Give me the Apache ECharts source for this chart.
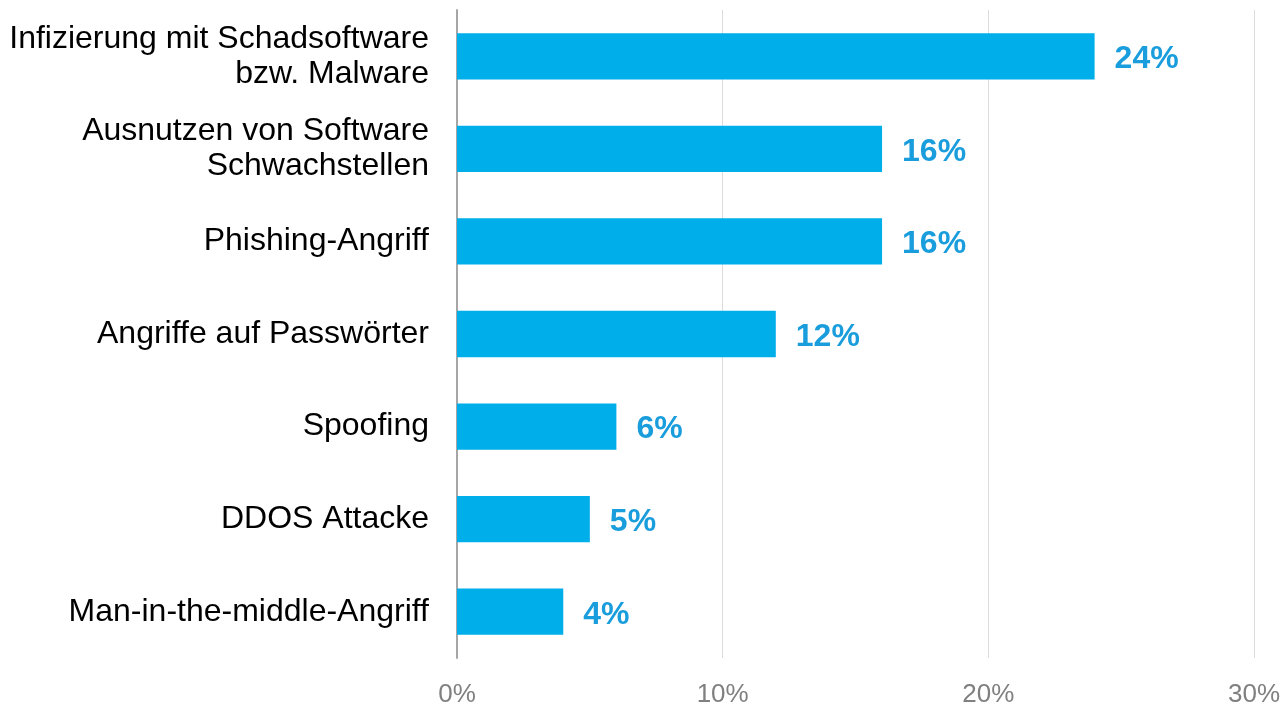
<!DOCTYPE html>
<html><head><meta charset="utf-8">
<script src="https://cdn.jsdelivr.net/npm/echarts@6/dist/echarts.min.js"></script>
<style>html,body{margin:0;padding:0;background:#fff}#c{width:1283px;height:706px}</style>
</head><body><div id="c"></div>
<script>
const categories = ["Infizierung mit Schadsoftware\nbzw. Malware","Ausnutzen von Software\nSchwachstellen","Phishing-Angriff","Angriffe auf Passwörter","Spoofing","DDOS Attacke","Man-in-the-middle-Angriff"];
const values = [24,16,16,12,6,5,4];
const tickLabels = ["0%","10%","20%","30%"];

const FONT = "'Liberation Sans', Arial, sans-serif";
const chart = echarts.init(document.getElementById('c'));
chart.setOption({
  animation:false,
  grid:{left:457,right:29,top:10,bottom:48,containLabel:false,outerBoundsMode:'none'},
  xAxis:{type:'value',min:0,max:30,interval:10,
    axisLine:{show:false},axisTick:{show:false},
    splitLine:{show:true,lineStyle:{color:'#dcdcdc',width:1}},
    axisLabel:{fontFamily:FONT,fontSize:26,color:'#808080',margin:24,
      formatter:(v)=>tickLabels[Math.round(v/10)]}},
  yAxis:{type:'category',data:categories,inverse:true,
    axisLine:{show:true,lineStyle:{color:'#a6a6a6',width:2}},axisTick:{show:false},
    axisLabel:{fontFamily:FONT,fontSize:32,color:'#000',margin:28,lineHeight:35,align:'right',padding:[8,0,0,0]}},
  series:[{type:'bar',data:values,barWidth:'50%',
    itemStyle:{color:'#00AEEA'},
    label:{show:true,position:'right',distance:20,offset:[0,3],formatter:'{c}%',
      fontFamily:FONT,fontSize:32,fontWeight:'bold',color:'#1A9DDC'}}]
});
</script></body></html>
